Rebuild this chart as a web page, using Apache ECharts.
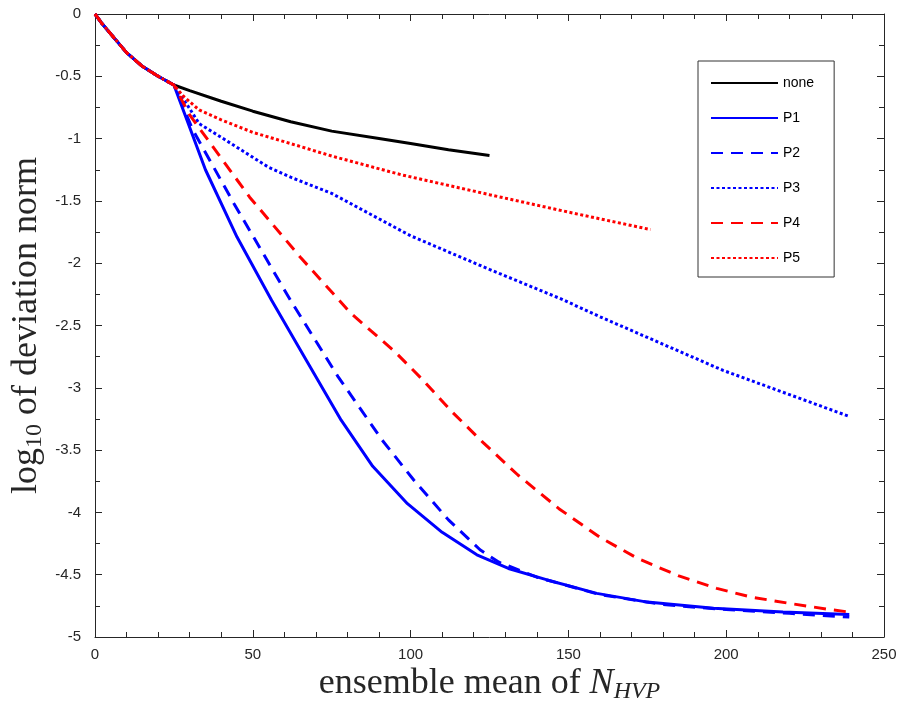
<!DOCTYPE html>
<html>
<head>
<meta charset="utf-8">
<script src="https://cdn.jsdelivr.net/npm/echarts@6/dist/echarts.min.js"></script>
<style>
  html, body { margin: 0; padding: 0; background: #ffffff; }
  #chart { width: 899px; height: 702px; }
</style>
</head>
<body>
<div id="chart"></div>
<script>
// shared start, all runs follow it up to N ~ 25
const startX = [0, 2, 5, 8, 10, 15, 20, 25];
const startY = [0, -0.07, -0.16, -0.25, -0.31, -0.42, -0.50, -0.57];

const noneX = [30, 40, 50, 62, 75, 90, 100, 112, 125];
const noneY = [-0.615, -0.70, -0.78, -0.865, -0.94, -1.00, -1.04, -1.09, -1.135];

const p1X = [35, 45, 56, 67, 78, 88, 99, 110, 121, 131, 143, 159, 175, 196, 218, 239];
const p1Y = [-1.25, -1.79, -2.30, -2.78, -3.26, -3.63, -3.93, -4.16, -4.34, -4.45, -4.54, -4.65, -4.72, -4.77, -4.80, -4.82];

const p2X = [31, 44, 62, 77, 91, 101, 112, 122, 128, 140, 160, 180, 200, 220, 239];
const p2Y = [-0.93, -1.52, -2.30, -2.91, -3.42, -3.74, -4.06, -4.30, -4.40, -4.52, -4.66, -4.74, -4.78, -4.81, -4.84];

const p3X = [30, 33, 40, 50, 55, 62, 75, 100, 125, 148, 160, 199, 239];
const p3Y = [-0.76, -0.88, -0.99, -1.15, -1.23, -1.31, -1.44, -1.78, -2.05, -2.29, -2.43, -2.86, -3.23];

const p4X = [30, 49, 65, 81, 95, 104, 113, 123, 134, 147, 160, 172, 185, 197, 208, 220, 233, 239];
const p4Y = [-0.81, -1.47, -1.95, -2.40, -2.71, -2.94, -3.19, -3.44, -3.70, -3.97, -4.20, -4.37, -4.51, -4.61, -4.68, -4.73, -4.78, -4.80];

const p5X = [28, 33, 40, 50, 62, 75, 97, 125, 150, 176];
const p5Y = [-0.66, -0.77, -0.85, -0.95, -1.04, -1.14, -1.29, -1.45, -1.59, -1.73];

function pts(xs, ys) {
  const all = [];
  startX.forEach((x, i) => all.push([x, startY[i]]));
  xs.forEach((x, i) => all.push([x, ys[i]]));
  return all;
}

const axisColor = '#262626';
const tickFont = 'Liberation Sans';
const serif = 'Liberation Serif';

let chart = echarts.init(document.getElementById('chart'));

function line(name, xs, ys, color, type) {
  return {
    name: name,
    type: 'line',
    data: pts(xs, ys),
    symbol: 'none',
    animation: false,
    lineStyle: { color: color, width: 3, type: type, cap: 'butt' },
    itemStyle: { color: color }
  };
}

function frameX(pos, withLabel) {
  return {
    type: 'value',
    min: 0,
    max: 250,
    interval: 50,
    position: pos,
    axisLine: { onZero: false, lineStyle: { color: axisColor, width: 1 } },
    axisTick: { inside: true, length: 7, lineStyle: { color: axisColor } },
    minorTick: { show: true, splitNumber: 5, length: 5, lineStyle: { color: axisColor } },
    axisLabel: { show: withLabel, fontFamily: tickFont, fontSize: 15, color: axisColor, margin: 10 },
    splitLine: { show: false }
  };
}

function frameY(pos, withLabel) {
  return {
    type: 'value',
    min: -5,
    max: 0,
    interval: 0.5,
    position: pos,
    axisLine: { show: true, onZero: false, lineStyle: { color: axisColor, width: 1 } },
    axisTick: { show: true, inside: true, length: 7, lineStyle: { color: axisColor } },
    minorTick: { show: true, splitNumber: 2, length: 5, lineStyle: { color: axisColor } },
    axisLabel: { show: withLabel, fontFamily: tickFont, fontSize: 15, color: axisColor, margin: 14 },
    splitLine: { show: false }
  };
}

let xBottom = frameX('bottom', true);
xBottom.name = '{a|ensemble mean of }{i|N}{s|HVP}';
xBottom.nameLocation = 'middle';
xBottom.nameGap = 27;
xBottom.nameMoveOverlap = false;
xBottom.nameTextStyle = {
  rich: {
    a: { fontFamily: serif, fontSize: 36, color: '#262626', lineHeight: 40 },
    i: { fontFamily: serif, fontSize: 36, fontStyle: 'italic', color: '#262626', lineHeight: 40 },
    s: { fontFamily: serif, fontSize: 24, fontStyle: 'italic', color: '#262626', lineHeight: 40, verticalAlign: 'bottom', padding: [14, 0, 0, 0] }
  }
};

let yLeft = frameY('left', true);
yLeft.name = '{a|log}{s|10}{a| of deviation norm}';
yLeft.nameLocation = 'middle';
yLeft.nameGap = 48;
yLeft.nameRotate = 90;
yLeft.nameMoveOverlap = false;
yLeft.nameTextStyle = {
  rich: {
    a: { fontFamily: serif, fontSize: 36, color: '#262626', lineHeight: 40 },
    s: { fontFamily: serif, fontSize: 24, color: '#262626', lineHeight: 40, verticalAlign: 'bottom', padding: [14, 0, 0, 0] }
  }
};

let option = {
  backgroundColor: '#ffffff',
  animation: false,
  grid: { left: 95, right: 15, top: 14, bottom: 65, outerBoundsMode: 'none' },
  legend: {
    orient: 'vertical',
    left: 698,
    top: 61,
    padding: [15, 20, 12, 12],
    itemWidth: 67,
    itemHeight: 14,
    itemGap: 21,
    borderColor: '#333333',
    borderWidth: 1,
    backgroundColor: '#ffffff',
    itemStyle: { opacity: 0 },
    textStyle: { fontFamily: tickFont, fontSize: 14, color: '#000000' },
    data: ['none', 'P1', 'P2', 'P3', 'P4', 'P5']
  },
  xAxis: [xBottom, frameX('top', false)],
  yAxis: [yLeft, frameY('right', false)],
  series: [
    line('none', noneX, noneY, '#000000', 'solid'),
    line('P1', p1X, p1Y, '#0000ff', 'solid'),
    line('P2', p2X, p2Y, '#0000ff', [12, 8]),
    line('P3', p3X, p3Y, '#0000ff', [3, 2.5]),
    line('P4', p4X, p4Y, '#ff0000', [12, 8]),
    line('P5', p5X, p5Y, '#ff0000', [3, 2.5])
  ]
};

chart.setOption(option);
</script>
</body>
</html>
